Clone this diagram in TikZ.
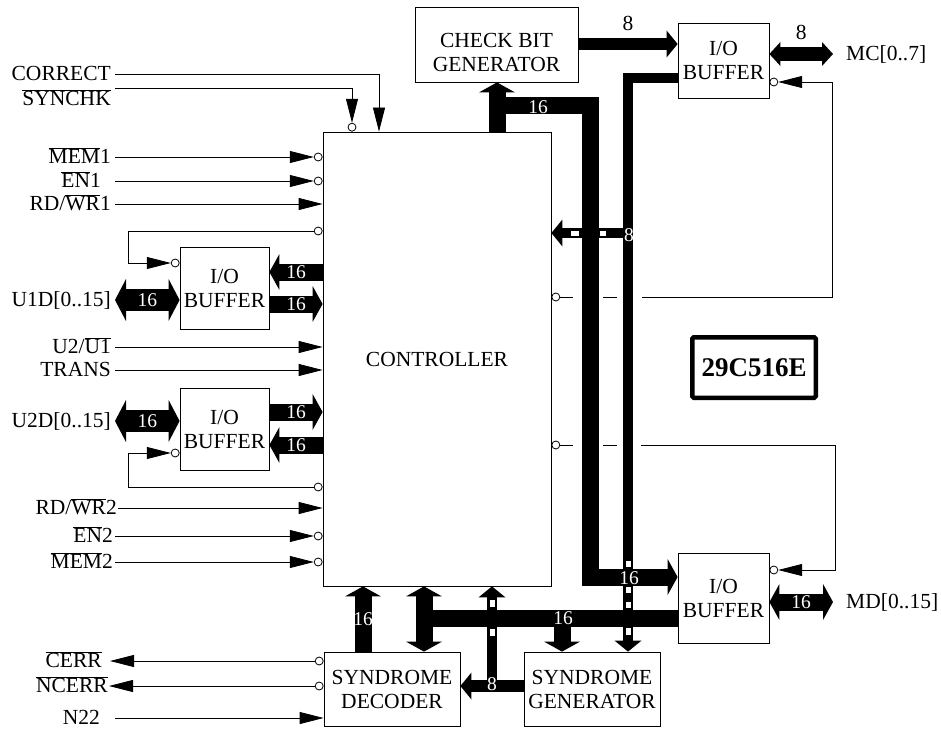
\documentclass[tikz,border=0pt]{standalone}
\usepackage{fontspec}
\setmainfont{Liberation Serif}
\usetikzlibrary{arrows.meta, positioning}
\newcommand{\ovl}[1]{$\overline{\mbox{#1}}$}

\tikzset{
	blk/.style={draw, line width=0.8pt, fill=white, align=center, inner sep=0pt},
	chipbox/.style={draw, line width=4.5pt, rounded corners=1.5pt, inner sep=0pt, font=\fontsize{27}{30}\selectfont\bfseries},
	lbl/.style={anchor=east, inner xsep=4pt, inner ysep=2pt, text height=15pt, text depth=1.5pt},
	rlbl/.style={lbl, anchor=west, inner xsep=13pt},
	bubble/.style={circle, draw, line width=0.8pt, fill=white, minimum size=8pt, inner sep=0pt},
	wire/.style={line width=0.8pt},
	sig/.style={wire, -{Triangle[length=24pt,width=12pt]}},
	gap/.style={white, line width=4pt},
	stripe/.style={white, line width=5pt},
	bus/.style={line width=17pt},
	busto/.style={bus, -{Triangle[length=10pt,width=36pt,line width=0pt]}},
	busboth/.style={bus, {Triangle[length=10pt,width=36pt,line width=0pt]}-{Triangle[length=10pt,width=36pt,line width=0pt]}},
	thinbus/.style={line width=10pt},
	thinto/.style={thinbus, -{Triangle[length=11pt,width=27pt,line width=0pt]}},
	extboth/.style={line width=22pt, {Triangle[length=11pt,width=42pt,line width=0pt]}-{Triangle[length=11pt,width=42pt,line width=0pt]}},
	mcboth/.style={line width=14pt, {Triangle[length=11pt,width=24pt,line width=0pt]}-{Triangle[length=11pt,width=24pt,line width=0pt]}},
	buslbl/.style={text=white, inner sep=0pt, font=\fontsize{19.5}{19.5}\selectfont}
}

\begin{document}
\begin{tikzpicture}[x=1pt, y=-1pt, font=\fontsize{21.5}{24}\selectfont]
	\useasboundingbox (0,0) rectangle (941,730);
	
	% blocks
	\node[blk, minimum width=228pt, minimum height=454pt] (ctrl) at (437,359) {CONTROLLER};
	\node[blk, minimum width=163pt, minimum height=75pt] (cbg) at (496.5,44.5) {};
	\node[align=center] (cbgtxt) at ([yshift=-8pt]cbg.center) {CHECK BIT\\GENERATOR};
	\node[blk, minimum width=91pt, minimum height=75pt] (iobt) at (723.5,60.5) {I/O\\BUFFER};
	\node[blk, minimum width=91pt, minimum height=90pt] (iobb) at (723.5,598) {I/O\\BUFFER};
	\node[blk, minimum width=89pt, minimum height=82pt] (buf1) at (224.5,288) {I/O\\BUFFER};
	\node[blk, minimum width=89pt, minimum height=82pt] (buf2) at (224.5,429) {I/O\\BUFFER};
	\node[blk, minimum width=136pt, minimum height=74pt] (sdec) at (392,689) {SYNDROME\\DECODER};
	\node[blk, minimum width=136pt, minimum height=74pt] (sgen) at (592,689) {SYNDROME\\GENERATOR};
	\node[chipbox, minimum width=123.5pt, minimum height=60.5pt] (chip) at (754,367.5) {29C516E};
	
	% left pins
	\node[lbl] (lcorr) at (115,74) {CORRECT};
	\node[lbl] (lsyn) at (115,99) {\ovl{SYNCHK}};
	\node[lbl] (lmem1) at (115,157) {\ovl{MEM}1};
	\node[lbl, inner xsep=14pt] (len1) at (115,181) {\ovl{EN}1};
	\node[lbl] (lrw1) at (115,204) {RD/\ovl{WR}1};
	\node[lbl] (lu1d) at (115,300) {U1D[0..15]};
	\node[lbl] (lu2u1) at (115,347) {U2/\ovl{U1}};
	\node[lbl] (ltrans) at (115,370) {TRANS};
	\node[lbl] (lu2d) at (115,421) {U2D[0..15]};
	\node[lbl, inner xsep=1pt] (lrw2) at (118,508) {RD/\ovl{WR}2};
	\node[lbl, inner xsep=2pt] (len2) at (115,536) {\ovl{EN}2};
	\node[lbl, inner xsep=2pt] (lmem2) at (115,562) {\ovl{MEM}2};
	\node[lbl, inner xsep=8pt] (lcerr) at (110,661) {\ovl{CERR}};
	\node[lbl, inner xsep=1pt] (lncerr) at (109,686) {\ovl{NCERR}};
	\node[lbl, inner xsep=15pt] (ln22) at (115,718) {N22};
	
	% right pins
	\node[rlbl] (lmc) at (833,54) {MC[0..7]};
	\node[rlbl] (lmd) at (833,602) {MD[0..15]};
	
	% bubbles
	\node[bubble, anchor=south] (bsyn) at (352,0 |- ctrl.north) {};
	\node[bubble, anchor=east] (bmem1) at (ctrl.west |- lmem1) {};
	\node[bubble, anchor=east] (ben1) at (ctrl.west |- len1) {};
	\node[bubble, anchor=east] (bfb1) at (ctrl.west |- 0,231) {};
	\node[bubble, anchor=east] (bbuf1) at (buf1.west |- 0,263) {};
	\node[bubble, anchor=east] (bbuf2) at (buf2.west |- 0,453) {};
	\node[bubble, anchor=east] (bfb2) at (ctrl.west |- 0,487) {};
	\node[bubble, anchor=east] (ben2) at (ctrl.west |- len2) {};
	\node[bubble, anchor=east] (bmem2) at (ctrl.west |- lmem2) {};
	\node[bubble, anchor=east] (bcerr) at (sdec.west |- lcerr) {};
	\node[bubble, anchor=east] (bncerr) at (sdec.west |- lncerr) {};
	\node[bubble, anchor=west] (bfr1) at (ctrl.east |- 0,297) {};
	\node[bubble, anchor=west] (bfr2) at (ctrl.east |- 0,445) {};
	\node[bubble, anchor=west] (biot) at (iobt.east |- 0,82) {};
	\node[bubble, anchor=west] (biob) at (iobb.east |- 0,570) {};
	
	% control wires
	\draw[sig] (lcorr.east) -| (379,0 |- ctrl.north);
	\draw[sig] (lsyn.north east) -| (bsyn.north);
	\draw[sig] (lmem1.east) -- (bmem1.west);
	\draw[sig] (len1.east) -- (ben1.west);
	\draw[sig] (lrw1.east) -- (ctrl.west |- lrw1.east);
	\draw[sig] (bfb1.west) -- (128,0 |- bfb1.west) |- (bbuf1.west);
	\draw[sig] (lu2u1.east) -- (ctrl.west |- lu2u1.east);
	\draw[sig] (ltrans.east) -- (ctrl.west |- ltrans.east);
	\draw[sig] (bfb2.west) -- (128,0 |- bfb2.west) |- (bbuf2.west);
	\draw[sig] (lrw2.east) -- (ctrl.west |- lrw2.east);
	\draw[sig] (len2.east) -- (ben2.west);
	\draw[sig] (lmem2.east) -- (bmem2.west);
	\draw[sig] (bcerr.west) -- (lcerr.east);
	\draw[sig] (bncerr.west) -- (lncerr.east);
	\draw[sig] (ln22.east) -- (sdec.west |- ln22.east);
	\draw[sig] (bfr1.east) -- (832,0 |- bfr1.east) |- (biot.east);
	\draw[sig] (bfr2.east) -- (835,0 |- bfr2.east) |- (biob.east);
	\draw[gap] (573,297) -- (603,297) (617,297) -- (642,297)
		(573,445) -- (603,445) (617,445) -- (641,445);
	
	% 8 bit buses
	\draw[thinto, line width=12pt] (cbg.east |- 0,44) -- (iobt.west |- 0,44) node[midway, above=4pt] {8};
	\draw[mcboth] (iobt.east |- lmc.west) -- (lmc.west) node[midway, above=4pt] {8};
	\draw[thinto] (iobt.west |- 0,78) -| (628,0 |- sgen.north);
	\draw[thinto] (628,233) -- (ctrl.east |- 0,233);
	\draw[thinto, line width=12pt] (sgen.west |- 0,686) -- (sdec.east |- 0,686);
	\draw[thinto] (492,686) -- (492,0 |- ctrl.south);
	\draw[stripe] (628,561) -- (628,567) (628,587) -- (628,593)
		(628,602) -- (628,608) (628,628) -- (628,635)
		(492,600) -- (492,607) (492,629) -- (492,636)
		(571,233) -- (579,233) (600,233) -- (606,233);
	
	% 16 bit buses
	\draw[busto] (497,0 |- ctrl.north) -- (497,0 |- cbg.south);
	\draw[busto] (497,106) -| (590,577) -- (iobb.west |- 0,577);
	\draw[busto] (ctrl.west |- 0,272) -- (buf1.east |- 0,272) node[buslbl, midway] {16};
	\draw[busto] (buf1.east |- 0,304) -- (ctrl.west |- 0,304) node[buslbl, midway] {16};
	\draw[busto] (buf2.east |- 0,412) -- (ctrl.west |- 0,412) node[buslbl, midway] {16};
	\draw[busto] (ctrl.west |- 0,445) -- (buf2.east |- 0,445) node[buslbl, midway] {16};
	\draw[extboth] (lu1d.east) -- (buf1.west |- lu1d.east) node[buslbl, midway] {16};
	\draw[extboth] (lu2d.east) -- (buf2.west |- lu2d.east) node[buslbl, midway] {16};
	\draw[busboth] (iobb.east |- lmd.west) -- (lmd.west) node[buslbl, midway] {16};
	\draw[busboth] (424,0 |- ctrl.south) -- (424,0 |- sdec.north);
	\draw[bus] (424,618) -- (iobb.west |- 0,618);
	\draw[busto] (562,618) -- (562,0 |- sgen.north);
	\draw[busto] (363,0 |- sdec.north) -- (363,0 |- ctrl.south) node[buslbl, midway] {16};
	
	% bus widths
	\node[buslbl] at (538,107) {16};
	\node[buslbl] at (629,578) {16};
	\node[buslbl] at (563,618) {16};
	\node[buslbl] at (629,235) {8};
	\node[buslbl] at (492,684) {8};
\end{tikzpicture}
\end{document}
